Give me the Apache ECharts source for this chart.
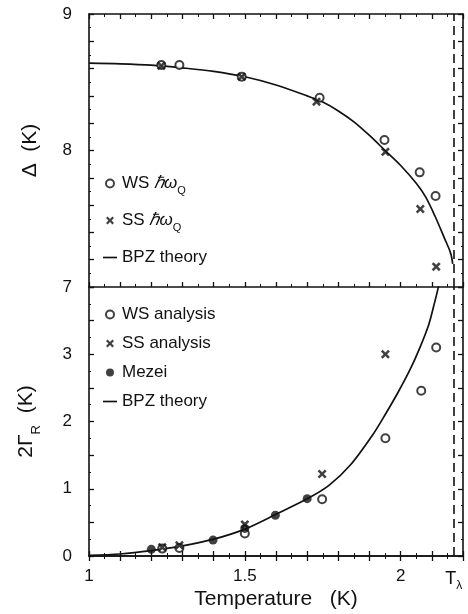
<!DOCTYPE html>
<html>
<head>
<meta charset="utf-8">
<script src="https://cdn.jsdelivr.net/npm/echarts@6/dist/echarts.min.js"></script>
<style>
html,body{margin:0;padding:0;background:#fff;}
#c{width:468px;height:614px;}
</style>
</head>
<body>
<div id="c"></div>
<script>
// ---- data ----
const T_LAMBDA = 2.17;

// top panel: Delta (K)
const theoryTopT = [1.0, 1.1, 1.2, 1.3, 1.4, 1.5, 1.6, 1.7, 1.75, 1.8, 1.85, 1.9, 1.95, 2.0, 2.05, 2.08, 2.11, 2.14, 2.16, 2.167];
const theoryTopD = [8.64, 8.635, 8.625, 8.605, 8.58, 8.54, 8.48, 8.40, 8.355, 8.29, 8.21, 8.11, 8.00, 7.89, 7.76, 7.66, 7.52, 7.36, 7.25, 7.17];
const wsTopT = [1.232, 1.29, 1.49, 1.74, 1.948, 2.061, 2.112];
const wsTopD = [8.626, 8.626, 8.54, 8.387, 8.077, 7.84, 7.667];
const ssTopT = [1.232, 1.49, 1.73, 1.951, 2.063, 2.114];
const ssTopD = [8.62, 8.54, 8.358, 7.99, 7.571, 7.149];

// bottom panel: 2 Gamma_R (K)
const theoryBotT = [1.0, 1.1, 1.2, 1.3, 1.4, 1.5, 1.6, 1.7, 1.77, 1.84, 1.91, 1.95, 1.99, 2.03, 2.06, 2.09, 2.11, 2.12, 2.125];
const theoryBotG = [0.01, 0.03, 0.08, 0.15, 0.25, 0.40, 0.62, 0.85, 1.05, 1.36, 1.80, 2.10, 2.42, 2.77, 3.08, 3.44, 3.79, 3.98, 4.1];
const wsBotT = [1.235, 1.29, 1.5, 1.748, 1.951, 2.066, 2.114];
const wsBotG = [0.11, 0.12, 0.335, 0.843, 1.75, 2.456, 3.10];
const ssBotT = [1.235, 1.29, 1.5, 1.748, 1.951];
const ssBotG = [0.13, 0.16, 0.47, 1.22, 3.0];
const mezeiT = [1.2, 1.398, 1.5, 1.598, 1.70];
const mezeiG = [0.099, 0.237, 0.41, 0.606, 0.853];

const xTickLabels = [1, 1.5, 2];
const yTopLabels = [7, 8, 9];
const yBotLabels = [0, 1, 2, 3];

const zip = (a, b) => a.map((v, i) => [v, b[i]]);

const INK = '#111';
const FONT = '"Liberation Sans", Arial, Helvetica, sans-serif';
const CROSS = 'path://M0,2 L2,0 L5,3 L8,0 L10,2 L7,5 L10,8 L8,10 L5,7 L2,10 L0,8 L3,5 Z';
const DASH_ICON = 'path://M0,0 L20,0 L20,2.4 L0,2.4 Z';

const near = (v, arr) => arr.some(t => Math.abs(v - t) < 1e-6);

function xAx(grid, pos, labels) {
  return {
    type: 'value', gridIndex: grid, position: pos, min: 1, max: 2.2, interval: 0.1,
    axisLine: {show: true, lineStyle: {color: INK, width: 1.6}},
    axisTick: {show: true, inside: true, length: 5, lineStyle: {color: INK, width: 1.3}},
    minorTick: {show: true, splitNumber: 2, length: 3, lineStyle: {color: INK}},
    splitLine: {show: false},
    axisLabel: labels ? {
      show: true, interval: 0, margin: 12, color: INK, fontSize: 17, fontFamily: FONT,
      formatter: v => near(v, xTickLabels) ? String(v) : ''
    } : {show: false}
  };
}
function yAx(grid, pos, min, max, interval, labels) {
  return {
    type: 'value', gridIndex: grid, position: pos, min: min, max: max, interval: interval,
    axisLine: {show: true, lineStyle: {color: INK, width: 1.6}},
    axisTick: {show: true, inside: true, length: 5, lineStyle: {color: INK, width: 1.3}},
    minorTick: {show: true, splitNumber: 2, length: 2, lineStyle: {color: INK}},
    splitLine: {show: false},
    axisLabel: labels ? {
      show: true, margin: 17, color: INK, fontSize: 17, fontFamily: FONT,
      formatter: v => near(v, labels) ? String(Math.round(v)) : ''
    } : {show: false}
  };
}

const chart = echarts.init(document.getElementById('c'), null, {renderer: 'canvas'});
const subRich = {
  i: {fontStyle: 'italic', fontSize: 17, fontFamily: FONT, color: INK},
  s: {fontSize: 11, fontFamily: FONT, color: INK, padding: [14, 0, 0, 0]},
  n: {fontSize: 17, fontFamily: FONT, color: INK}
};

const option = {
  backgroundColor: '#fff',
  animation: false,
  grid: [
    {left: 89, top: 14, width: 374, height: 273},
    {left: 89, top: 287, width: 374, height: 269}
  ],
  xAxis: [
    xAx(0, 'bottom', false),
    xAx(0, 'top', false),
    Object.assign(xAx(1, 'bottom', true), {
      name: 'Temperature   (K)', nameLocation: 'middle', nameGap: 33,
      nameTextStyle: {color: INK, fontSize: 21, fontFamily: FONT}
    }),
    xAx(1, 'top', false)
  ],
  yAxis: [
    Object.assign(yAx(0, 'left', 7, 9, 0.2, yTopLabels), {
      name: 'Δ  (K)', nameLocation: 'middle', nameGap: 48, nameRotate: 90,
      nameTextStyle: {color: INK, fontSize: 21, fontFamily: FONT}
    }),
    yAx(0, 'right', 7, 9, 0.2, null),
    Object.assign(yAx(1, 'left', 0, 4, 0.5, yBotLabels), {
      name: '2Γ{s|R}  (K)', nameLocation: 'middle', nameGap: 46, nameRotate: 90,
      nameTextStyle: {color: INK, fontSize: 21, fontFamily: FONT,
        rich: {s: {fontSize: 13, fontFamily: FONT, color: INK, verticalAlign: 'bottom', lineHeight: 34}}}
    }),
    yAx(1, 'right', 0, 4, 0.5, null)
  ],
  legend: [
    {
      orient: 'vertical', left: 98, top: 170, itemGap: 16, itemWidth: 14, itemHeight: 8,
      textStyle: {color: INK, fontSize: 17, fontFamily: FONT, rich: subRich},
      data: [
        {name: 'WS ℏωQ', icon: 'emptyCircle'},
        {name: 'SS ℏωQ', icon: CROSS},
        {name: 'BPZ theory', icon: DASH_ICON}
      ],
      formatter: n => n === 'WS ℏωQ' ? '{n|WS }{i|ℏω}{s|Q}' : n === 'SS ℏωQ' ? '{n|SS }{i|ℏω}{s|Q}' : n
    },
    {
      orient: 'vertical', left: 98, top: 301, itemGap: 12, itemWidth: 14, itemHeight: 8,
      textStyle: {color: INK, fontSize: 17, fontFamily: FONT},
      data: [
        {name: 'WS analysis', icon: 'emptyCircle'},
        {name: 'SS analysis', icon: CROSS},
        {name: 'Mezei', icon: 'circle'},
        {name: 'BPZ theory ', icon: DASH_ICON}
      ]
    }
  ],
  series: [
    {name: 'BPZ theory', type: 'line', xAxisIndex: 0, yAxisIndex: 0, data: zip(theoryTopT, theoryTopD),
     smooth: 0.3, symbol: 'none', lineStyle: {color: INK, width: 1.7}, itemStyle: {color: INK}, z: 2,
     markLine: {silent: true, symbol: 'none', label: {show: false},
       lineStyle: {color: INK, type: [9, 5], width: 1.6}, data: [{xAxis: T_LAMBDA}]}},
    {name: 'WS ℏωQ', type: 'scatter', xAxisIndex: 0, yAxisIndex: 0, data: zip(wsTopT, wsTopD),
     symbol: 'emptyCircle', symbolSize: 8, itemStyle: {color: INK, borderColor: INK, borderWidth: 1.7}, z: 3},
    {name: 'SS ℏωQ', type: 'scatter', xAxisIndex: 0, yAxisIndex: 0, data: zip(ssTopT, ssTopD),
     symbol: CROSS, symbolSize: 9, itemStyle: {color: INK}, z: 3},

    {name: 'BPZ theory ', type: 'line', xAxisIndex: 2, yAxisIndex: 2, data: zip(theoryBotT, theoryBotG),
     smooth: 0.3, symbol: 'none', lineStyle: {color: INK, width: 1.7}, itemStyle: {color: INK}, z: 2,
     markLine: {silent: true, symbol: 'none',
       label: {show: true, position: 'start', distance: 10, formatter: 'T{s|λ}', color: INK, fontSize: 18, fontFamily: FONT,
         rich: {s: {fontSize: 12, fontFamily: FONT, color: INK, padding: [14, 0, 0, 0]}}},
       lineStyle: {color: INK, type: [9, 5], width: 1.6}, data: [{xAxis: T_LAMBDA}]}},
    {name: 'WS analysis', type: 'scatter', xAxisIndex: 2, yAxisIndex: 2, data: zip(wsBotT, wsBotG),
     symbol: 'emptyCircle', symbolSize: 8, itemStyle: {color: INK, borderColor: INK, borderWidth: 1.7}, z: 3},
    {name: 'SS analysis', type: 'scatter', xAxisIndex: 2, yAxisIndex: 2, data: zip(ssBotT, ssBotG),
     symbol: CROSS, symbolSize: 9, itemStyle: {color: INK}, z: 3},
    {name: 'Mezei', type: 'scatter', xAxisIndex: 2, yAxisIndex: 2, data: zip(mezeiT, mezeiG),
     symbol: 'circle', symbolSize: 9, itemStyle: {color: INK}, z: 4}
  ]
};
chart.setOption(option);
</script>
</body>
</html>
